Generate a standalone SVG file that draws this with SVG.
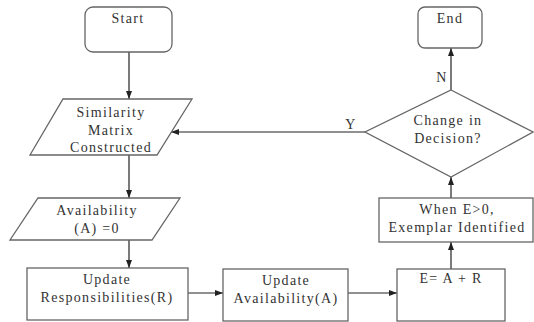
<svg xmlns="http://www.w3.org/2000/svg" width="534" height="322" viewBox="0 0 534 322">
<defs>
<marker id="ah" viewBox="0 0 8 6" refX="8" refY="3" markerWidth="8" markerHeight="6" markerUnits="userSpaceOnUse" orient="auto">
<path d="M0,0 L8,3 L0,6 Z" fill="#222"/>
</marker>
<style>
.shape{fill:#fff;stroke:#666;stroke-width:1.3}
.t{font-family:"Liberation Serif","Times New Roman",serif;font-size:14px;fill:#333;text-anchor:middle;letter-spacing:1.3px}
.c{fill:none;stroke:#222;stroke-width:1.2}
</style>
</defs>
<rect width="534" height="322" fill="#fff"/>
<g id="connectors">
<line class="c" x1="129" y1="52" x2="129" y2="99" marker-end="url(#ah)"/>
<line class="c" x1="365" y1="132" x2="171" y2="132" marker-end="url(#ah)"/>
<line class="c" x1="129" y1="155" x2="129" y2="198" marker-end="url(#ah)"/>
<line class="c" x1="129" y1="240" x2="129" y2="268" marker-end="url(#ah)"/>
<line class="c" x1="188" y1="293" x2="223" y2="293" marker-end="url(#ah)"/>
<line class="c" x1="348" y1="293" x2="397" y2="293" marker-end="url(#ah)"/>
<line class="c" x1="451" y1="269" x2="451" y2="242" marker-end="url(#ah)"/>
<line class="c" x1="451" y1="198" x2="451" y2="177" marker-end="url(#ah)"/>
<line class="c" x1="451" y1="90" x2="451" y2="48" marker-end="url(#ah)"/>
<text class="t" x="351" y="129">Y</text>
<text class="t" x="442" y="82">N</text>
</g>
<g id="start">
<rect class="shape" x="85" y="7" width="87" height="45" rx="8"/>
<text class="t" x="128" y="23">Start</text>
</g>
<g id="similarity">
<polygon class="shape" points="63,99 192,99 157,155 30,155"/>
<text class="t" x="111" y="117">Similarity</text>
<text class="t" x="111" y="135">Matrix</text>
<text class="t" x="111" y="152">Constructed</text>
</g>
<g id="availability0">
<polygon class="shape" points="38,198 180,198 152,240 10,240"/>
<text class="t" x="97" y="215">Availability</text>
<text class="t" x="97" y="233">(A) =0</text>
</g>
<g id="updateR">
<rect class="shape" x="27" y="268" width="161" height="52"/>
<text class="t" x="107" y="284">Update</text>
<text class="t" x="107" y="302">Responsibilities(R)</text>
</g>
<g id="updateA">
<rect class="shape" x="223" y="269" width="125" height="52"/>
<text class="t" x="286" y="285">Update</text>
<text class="t" x="286" y="303">Availability(A)</text>
</g>
<g id="e">
<rect class="shape" x="397" y="269" width="108" height="52"/>
<text class="t" x="451" y="283">E= A + R</text>
</g>
<g id="exemplar">
<rect class="shape" x="379" y="198" width="154" height="44"/>
<text class="t" x="457" y="214">When E&gt;0,</text>
<text class="t" x="457" y="232">Exemplar Identified</text>
</g>
<g id="decision">
<polygon class="shape" points="451,90 533,132 451,177 365,132"/>
<text class="t" x="448" y="125">Change in</text>
<text class="t" x="448" y="143">Decision?</text>
</g>
<g id="end">
<rect class="shape" x="418" y="7" width="64" height="41" rx="7"/>
<text class="t" x="450" y="23">End</text>
</g>
</svg>
